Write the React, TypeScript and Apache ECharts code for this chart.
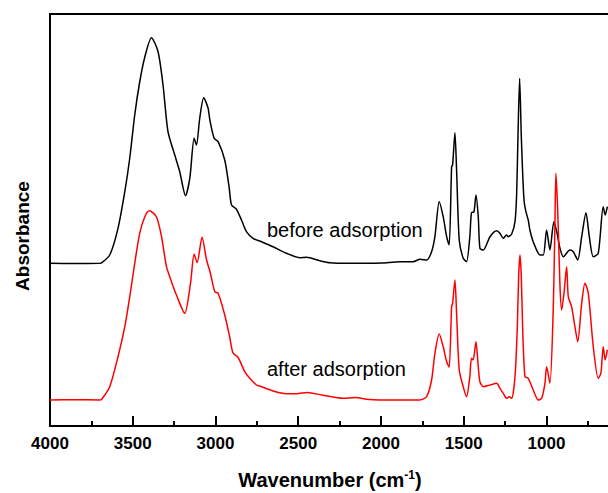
import React, { useEffect, useRef } from "react";
import * as echarts from "echarts";

// Wavenumber (cm-1) and absorbance (arbitrary units)
const beforeWn = [4000, 3850, 3700, 3689, 3639, 3589, 3548, 3518, 3488, 3458, 3427, 3387, 3347, 3317, 3287, 3246, 3216, 3181, 3155, 3129, 3115, 3095, 3071, 3045, 3034, 3008, 2984, 2944, 2918, 2903, 2873, 2843, 2813, 2773, 2722, 2652, 2571, 2490, 2450, 2369, 2309, 2200, 2000, 1886, 1805, 1765, 1724, 1694, 1674, 1648, 1624, 1603, 1588, 1573, 1567, 1553, 1543, 1527, 1503, 1483, 1463, 1453, 1438, 1426, 1412, 1402, 1382, 1341, 1301, 1281, 1261, 1241, 1231, 1210, 1190, 1180, 1172, 1162, 1152, 1143, 1135, 1124, 1110, 1100, 1080, 1039, 1019, 999, 979, 955, 938, 918, 898, 858, 838, 811, 787, 761, 741, 717, 687, 657, 645, 632];
const beforeAbs = [162.7, 162.4, 162.7, 163, 171, 197.7, 234.3, 268, 311, 344, 369, 388.3, 374.3, 341, 294.3, 271, 254.3, 230.3, 248, 287.7, 281, 308, 328.3, 318, 306, 287.7, 284.3, 266, 239.3, 221, 216.7, 206, 194.3, 187.7, 184.3, 179.3, 172.7, 168.3, 168.7, 165.3, 163.3, 162.7, 163, 164.3, 164.3, 166.7, 166, 174.3, 189.3, 224.3, 209.3, 189.3, 181, 259.3, 261, 293.3, 256, 186, 167.7, 164.3, 189.3, 213.3, 214.3, 231, 209.3, 177.7, 176, 189.3, 195.3, 192.7, 187.7, 191, 189.3, 192, 204.3, 232, 290, 347.7, 290, 250, 225, 214.3, 206, 196, 184.3, 171, 171, 196, 176, 204.3, 194.3, 177.7, 169.3, 176, 174.3, 166, 189.3, 213.3, 189.3, 169.3, 172.7, 219.3, 211, 219.3];

const afterWn = [4000, 3850, 3700, 3689, 3639, 3589, 3548, 3518, 3488, 3458, 3427, 3400, 3357, 3326, 3296, 3266, 3236, 3186, 3151, 3129, 3111, 3081, 3054, 3034, 3004, 2984, 2944, 2914, 2894, 2863, 2823, 2793, 2752, 2732, 2652, 2571, 2510, 2445, 2357, 2229, 2152, 2087, 2007, 1886, 1765, 1724, 1694, 1674, 1648, 1624, 1603, 1588, 1573, 1567, 1553, 1543, 1527, 1503, 1483, 1463, 1453, 1443, 1426, 1412, 1402, 1382, 1341, 1301, 1281, 1261, 1241, 1225, 1210, 1190, 1176, 1168, 1160, 1152, 1144, 1130, 1110, 1080, 1050, 1029, 1009, 999, 979, 959, 949, 943, 932, 918, 908, 894, 878, 868, 848, 828, 811, 787, 767, 747, 717, 687, 671, 657, 645, 632];
const afterAbs = [26, 26.3, 26, 26.5, 39.3, 69.3, 99.3, 129.3, 162.7, 192.7, 209.3, 215.3, 209.3, 189.3, 159.3, 144.3, 131, 112.7, 142.7, 172, 163.3, 188.7, 166, 155, 134.3, 132.7, 111, 89, 73, 68.5, 54.3, 47.7, 41, 40, 35, 32.3, 32.3, 33.5, 31, 27.7, 28.5, 26.7, 26, 26, 26, 29.3, 46, 72.7, 92, 79.3, 64.3, 58.7, 119.3, 122.7, 146, 112.7, 56, 39.3, 29.3, 49.3, 67.7, 66, 84.3, 59.3, 44.3, 39.3, 41, 42.7, 37.7, 32.7, 27.7, 29.3, 27.7, 49.3, 99.3, 150, 171, 150, 99.3, 49.3, 47.7, 36, 26, 27.7, 42.7, 59.3, 42.7, 116, 199.3, 252.7, 216, 139.3, 116, 132.7, 159.3, 129.3, 119.3, 99.3, 84.3, 122.7, 142.7, 132.7, 79.3, 47.7, 52.7, 79.3, 66, 76];

// axis range: the plot is cropped at the right edge (visible to ~628 cm-1)
const X_MIN = 0;
const X_MAX = 4000;
const X_VISIBLE_MIN = 628;
const X_INTERVAL = 500;

const FONT = "Liberation Sans, Arial, sans-serif";

export default function App() {
  const ref = useRef<HTMLDivElement>(null);
  useEffect(() => {
    if (!ref.current) return;
    const chart = echarts.init(ref.current, undefined, { renderer: "svg" });
    const toPairs = (xs: number[], ys: number[]) => xs.map((x, i) => [x, ys[i]]);
    const W = 608;
    const left = 50;
    const visibleWidth = W - left;
    const fullWidth = (visibleWidth * (X_MAX - X_MIN)) / (X_MAX - X_VISIBLE_MIN);
    const right = W - left - fullWidth;
    chart.setOption({
      animation: false,
      backgroundColor: "#fff",
      grid: {
        left,
        right,
        top: 14,
        bottom: 67,
        containLabel: false,
        outerBoundsMode: "none",
      },
      xAxis: [
        {
          type: "value",
          min: X_MIN,
          max: X_MAX,
          interval: X_INTERVAL,
          inverse: true,
          position: "bottom",
          splitLine: { show: false },
          axisLine: { show: true, onZero: false, lineStyle: { color: "#000", width: 2 } },
          axisTick: { show: true, inside: true, length: 10, lineStyle: { color: "#000", width: 2 } },
          minorTick: { show: true, splitNumber: 2, length: 5, lineStyle: { color: "#000", width: 2 } },
          minorSplitLine: { show: false },
          axisLabel: {
            formatter: (v: number) => (v < 1000 ? "" : String(v)),
            margin: 9,
            color: "#000",
            fontSize: 17,
            fontWeight: "bold",
            fontFamily: FONT,
          },
        },
        {
          type: "value",
          min: X_MIN,
          max: X_MAX,
          interval: X_INTERVAL,
          inverse: true,
          position: "top",
          splitLine: { show: false },
          axisLine: { show: true, onZero: false, lineStyle: { color: "#000", width: 2 } },
          axisTick: { show: false },
          axisLabel: { show: false },
        },
      ],
      yAxis: {
        type: "value",
        min: 0,
        max: 412,
        axisLine: { show: true, onZero: false, lineStyle: { color: "#000", width: 2 } },
        axisTick: { show: false },
        axisLabel: { show: false },
        splitLine: { show: false },
      },
      series: [
        {
          name: "before adsorption",
          type: "line",
          data: toPairs(beforeWn, beforeAbs),
          showSymbol: false,
          smooth: 0.25,
          lineStyle: { color: "#000", width: 1.5 },
          itemStyle: { color: "#000" },
        },
        {
          name: "after adsorption",
          type: "line",
          data: toPairs(afterWn, afterAbs),
          showSymbol: false,
          smooth: 0.25,
          lineStyle: { color: "#ff0000", width: 1.5 },
          itemStyle: { color: "#ff0000" },
        },
      ],
      graphic: [
        {
          type: "rect",
          shape: { x: left - 1, y: 13, width: W - left + 1, height: 2 },
          style: { fill: "#000" },
          z: 100,
        },
        {
          type: "text",
          left: 267,
          top: 220,
          style: { text: "before adsorption", fontSize: 20, fontFamily: FONT, fill: "#000" },
        },
        {
          type: "text",
          left: 267,
          top: 359,
          style: { text: "after adsorption", fontSize: 20, fontFamily: FONT, fill: "#000" },
        },
        {
          type: "text",
          x: 22,
          y: 236,
          rotation: Math.PI / 2,
          style: {
            text: "Absorbance",
            fontSize: 19,
            fontWeight: "bold",
            fontFamily: FONT,
            fill: "#000",
            align: "center",
            verticalAlign: "middle",
          },
        },
        {
          type: "text",
          x: 330,
          y: 480,
          style: {
            text: "Wavenumber (cm{sup|-1})",
            fontSize: 20,
            fontWeight: "bold",
            fontFamily: FONT,
            fill: "#000",
            align: "center",
            verticalAlign: "middle",
            rich: {
              sup: {
                fontSize: 12,
                fontWeight: "bold",
                fontFamily: FONT,
                fill: "#000",
                verticalAlign: "top",
                padding: [0, 0, 10, 0],
              },
            },
          },
        },
      ],
    });
    return () => chart.dispose();
  }, []);
  return <div ref={ref} style={{ width: 608, height: 493, position: "absolute", left: 0, top: 0 }} />;
}
